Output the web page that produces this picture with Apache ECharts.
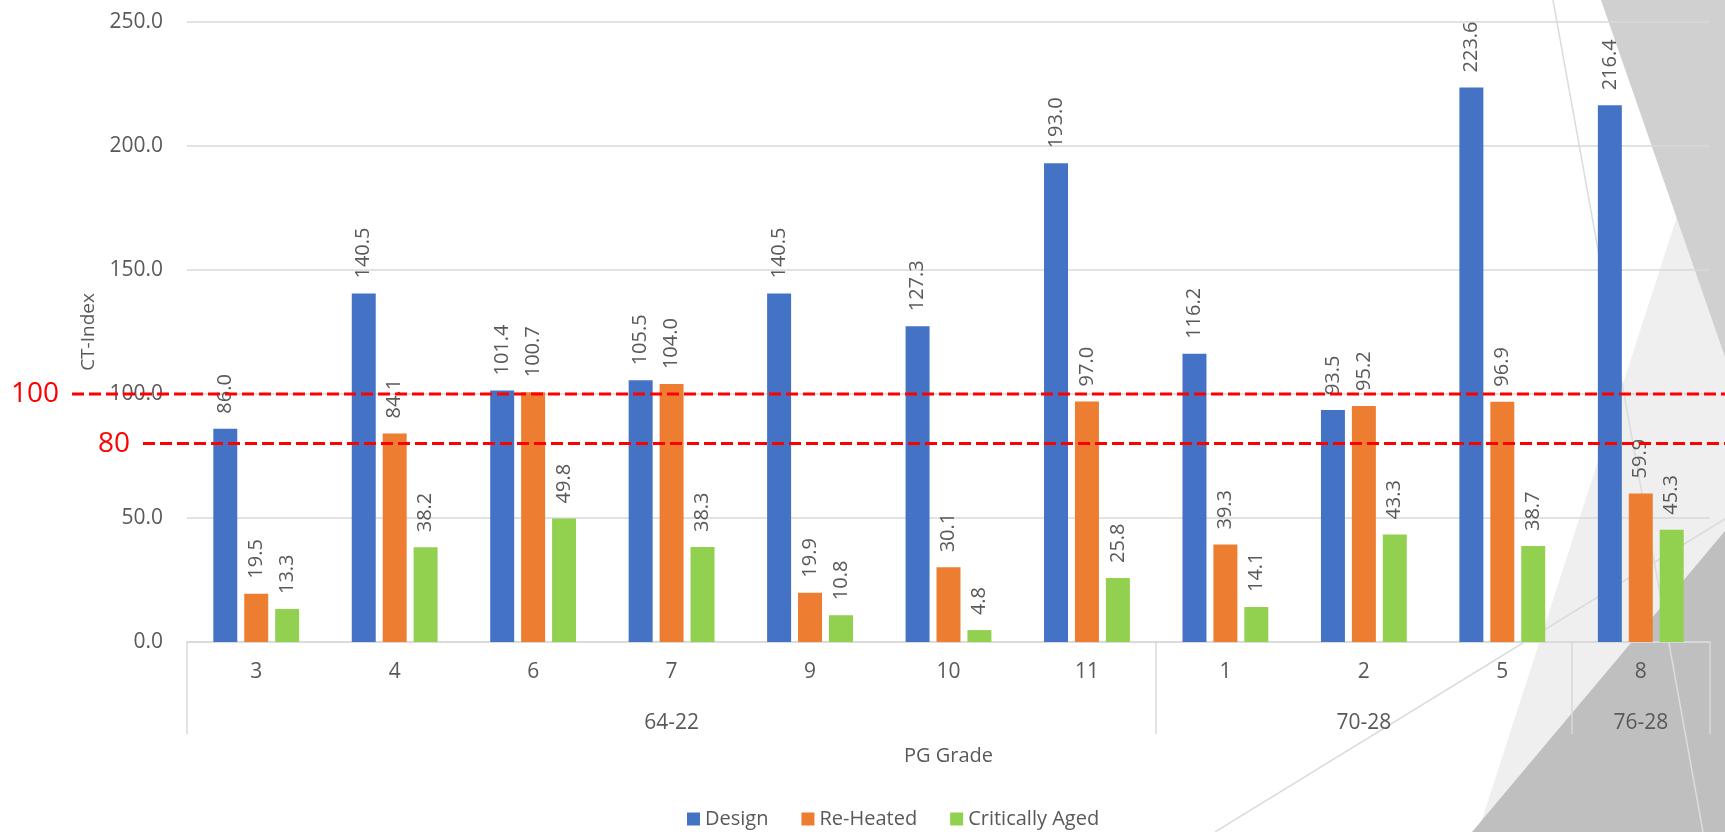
<!DOCTYPE html>
<html>
<head>
<meta charset="utf-8">
<title>CT-Index by PG Grade</title>
<script src="https://cdn.jsdelivr.net/npm/echarts@6/dist/echarts.min.js"></script>
<style>
  html, body { margin: 0; padding: 0; background: #ffffff; }
  #chart { width: 1725px; height: 832px; }
</style>
</head>
<body>
<div id="chart"></div>
<script>
// ---- data ----
const grades = ['3', '4', '6', '7', '9', '10', '11', '1', '2', '5', '8'];
const groupNames = ['64-22', '70-28', '76-28'];
const groupSizes = [7, 3, 1];

const design      = [86.0, 140.5, 101.4, 105.5, 140.5, 127.3, 193.0, 116.2, 93.5, 223.6, 216.4];
const reHeated    = [19.5, 84.1, 100.7, 104.0, 19.9, 30.1, 97.0, 39.3, 95.2, 96.9, 59.9];
const critAged    = [13.3, 38.2, 49.8, 38.3, 10.8, 4.8, 25.8, 14.1, 43.3, 38.7, 45.3];

const yTicks = [0, 50, 100, 150, 200, 250];
const thresholds = [100, 80];

// ---- layout / style ----
const FONT = 'Open Sans';
const TEXT = '#595959';
const GRID_LINE = '#d9d9d9';
const W = 1725;
const gridTop = 22, gridBottom = 190, gridLeft = 187, gridRight = 15;
const thresholdStart = [72, 143];   // where each dashed guide begins (px)

// group boundaries (category index where each group starts) and the
// category index whose centre carries each group name
const groupStarts = [];
const groupLabelAt = {};
let acc = 0;
groupSizes.forEach((n, g) => {
  groupStarts.push(acc);
  groupLabelAt[acc + Math.floor(n / 2)] = groupNames[g];
  acc += n;
});

const chart = echarts.init(document.getElementById('chart'), null, { renderer: 'canvas' });

const barLabel = {
  show: true,
  position: 'top',
  rotate: 90,
  align: 'left',
  verticalAlign: 'middle',
  distance: 15,
  fontFamily: FONT,
  fontSize: 20,
  color: TEXT,
  formatter: p => p.value.toFixed(1)
};

function barSeries(name, data, color) {
  return {
    name, type: 'bar', data,
    xAxisIndex: 0, yAxisIndex: 0,
    barCategoryGap: '38%', barGap: '29%',
    itemStyle: { color },
    label: barLabel,
    z: 2
  };
}

function thresholdSeries(value, startX) {
  return {
    name: 'limit-' + value,
    type: 'line',
    xAxisIndex: 1, yAxisIndex: 1,
    symbol: 'circle', symbolSize: 0.1,
    itemStyle: { color: '#ff0000' },
    lineStyle: { color: '#ff0000', width: 3, type: [12, 5] },
    silent: true,
    z: 10,
    data: [
      { value: [startX, value],
        label: { show: true, position: 'left', distance: 13, formatter: String(value),
                 fontFamily: FONT, fontSize: 28, color: '#ff0000' } },
      { value: [W, value], label: { show: false } }
    ]
  };
}

// decorative background facets on the right edge
const facets = [
  { shape: { points: [[1725, 68], [1478, 832], [1725, 832]] }, style: { fill: '#efefef' } },
  { shape: { points: [[1601, 0], [1725, 0], [1725, 357]] }, style: { fill: '#d0d0d0' } },
  { shape: { points: [[1472, 832], [1725, 832], [1725, 531]] }, style: { fill: '#bfbfbf' } }
].map(f => Object.assign({ type: 'polygon', z: -100, silent: true }, f));
const facetLines = [
  [[1553, 0], [1703, 832]],
  [[1215, 832], [1725, 519]]
].map(pts => ({
  type: 'line', z: -99, silent: true,
  shape: { x1: pts[0][0], y1: pts[0][1], x2: pts[1][0], y2: pts[1][1] },
  style: { stroke: '#dcdcdc', lineWidth: 1.5 }
}));

chart.setOption({
  animation: false,
  backgroundColor: '#ffffff',
  textStyle: { fontFamily: FONT },
  graphic: facets.concat(facetLines),
  legend: {
    data: ['Design', 'Re-Heated', 'Critically Aged'],
    left: 682, top: 804,
    icon: 'rect', itemWidth: 13, itemHeight: 13, itemGap: 33,
    textStyle: { fontFamily: FONT, fontSize: 20, color: TEXT }
  },
  grid: [
    { left: gridLeft, right: gridRight, top: gridTop, bottom: gridBottom, containLabel: false },
    { left: 0, right: 0, top: gridTop, bottom: gridBottom, containLabel: false }
  ],
  xAxis: [
    {
      type: 'category', gridIndex: 0, data: grades, position: 'bottom',
      axisLine: { show: true, lineStyle: { color: GRID_LINE, width: 1.5 } },
      axisTick: { show: true, length: 92, lineStyle: { color: GRID_LINE, width: 1.5 },
                  interval: i => groupStarts.includes(i) },
      axisLabel: { fontFamily: FONT, fontSize: 21, color: TEXT, margin: 20, interval: 0 },
      name: 'PG Grade', nameLocation: 'middle', nameGap: 104,
      nameTextStyle: { fontFamily: FONT, fontSize: 20, color: TEXT }
    },
    {
      type: 'value', gridIndex: 1, min: 0, max: W, show: false
    },
    {
      type: 'category', gridIndex: 0, data: grades, position: 'bottom', offset: 0,
      axisLine: { show: false }, axisTick: { show: false },
      axisLabel: { fontFamily: FONT, fontSize: 21, color: TEXT, margin: 71,
                   interval: i => groupLabelAt[i] !== undefined,
                   formatter: (v, i) => groupLabelAt[i] || '' }
    }
  ],
  yAxis: [
    {
      type: 'value', gridIndex: 0, min: yTicks[0], max: yTicks[yTicks.length - 1],
      interval: yTicks[1] - yTicks[0],
      axisLine: { show: false }, axisTick: { show: false },
      splitLine: { lineStyle: { color: GRID_LINE, width: 1.5 } },
      axisLabel: { fontFamily: FONT, fontSize: 21, color: TEXT, margin: 24,
                   formatter: v => v.toFixed(1) },
      name: 'CT-Index', nameLocation: 'middle', nameGap: 87, nameRotate: 90,
      nameTextStyle: { fontFamily: FONT, fontSize: 19, color: TEXT }
    },
    {
      type: 'value', gridIndex: 1, min: yTicks[0], max: yTicks[yTicks.length - 1], show: false
    }
  ],
  series: [
    barSeries('Design', design, '#4472c4'),
    barSeries('Re-Heated', reHeated, '#ed7d31'),
    barSeries('Critically Aged', critAged, '#92d050'),
    ...thresholds.map((t, k) => thresholdSeries(t, thresholdStart[k]))
  ]
});
</script>
</body>
</html>
